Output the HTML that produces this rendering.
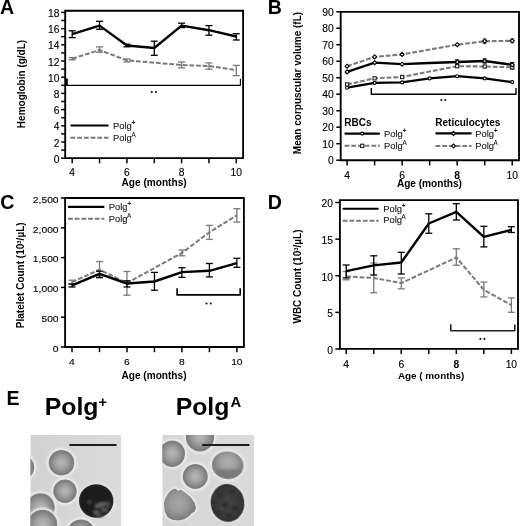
<!DOCTYPE html><html><head><meta charset="utf-8"><style>html,body{margin:0;padding:0;background:#fff;}svg{display:block;font-family:"Liberation Sans",sans-serif;will-change:transform;}</style></head><body>
<svg width="520" height="526" viewBox="0 0 520 526">
<defs>
<filter id="bl1" x="-20%" y="-20%" width="140%" height="140%"><feGaussianBlur stdDeviation="0.45"/></filter>
<filter id="bl2" x="-20%" y="-20%" width="140%" height="140%"><feGaussianBlur stdDeviation="1.0"/></filter>
<filter id="bl3" x="-50%" y="-50%" width="200%" height="200%"><feGaussianBlur stdDeviation="1.1"/></filter>
<radialGradient id="rbc" cx="50%" cy="50%" r="50%"><stop offset="0" stop-color="#b6b6b6"/><stop offset="0.35" stop-color="#a8a8a8"/><stop offset="0.7" stop-color="#8e8e8e"/><stop offset="0.9" stop-color="#7d7d7d"/><stop offset="1" stop-color="#858585"/></radialGradient>
<radialGradient id="rbc2" cx="50%" cy="40%" r="55%"><stop offset="0" stop-color="#b0b0b0"/><stop offset="0.45" stop-color="#a0a0a0"/><stop offset="0.75" stop-color="#868686"/><stop offset="1" stop-color="#7e7e7e"/></radialGradient>
<radialGradient id="rbc3" cx="45%" cy="45%" r="55%"><stop offset="0" stop-color="#a6a6a6"/><stop offset="0.5" stop-color="#9a9a9a"/><stop offset="0.85" stop-color="#838383"/><stop offset="1" stop-color="#7a7a7a"/></radialGradient>
<radialGradient id="dk1" cx="50%" cy="50%" r="50%"><stop offset="0" stop-color="#202020"/><stop offset="0.85" stop-color="#1c1c1c"/><stop offset="1" stop-color="#2a2a2a"/></radialGradient>
<radialGradient id="dk2" cx="50%" cy="50%" r="50%"><stop offset="0" stop-color="#3e3e3e"/><stop offset="0.8" stop-color="#383838"/><stop offset="1" stop-color="#303030"/></radialGradient>
<linearGradient id="bg1" x1="0" y1="0" x2="1" y2="0"><stop offset="0" stop-color="#d1d1d1"/><stop offset="1" stop-color="#dbdbdb"/></linearGradient>
<linearGradient id="bg2" x1="0" y1="0" x2="1" y2="0"><stop offset="0" stop-color="#d5d5d5"/><stop offset="1" stop-color="#dadada"/></linearGradient>
</defs>
<rect width="520" height="526" fill="#fff"/>
<line x1="61.2" y1="158.2" x2="65.2" y2="158.2" stroke="#000" stroke-width="1.5" />
<text x="59.4" y="162.8" font-size="10.3" font-weight="normal" text-anchor="end" fill="#000" textLength="5.73" lengthAdjust="spacingAndGlyphs" stroke="#000" stroke-width="0.12">0</text>
<line x1="61.2" y1="150.1" x2="65.2" y2="150.1" stroke="#000" stroke-width="1.5" />
<line x1="61.2" y1="142" x2="65.2" y2="142" stroke="#000" stroke-width="1.5" />
<text x="59.4" y="146.6" font-size="10.3" font-weight="normal" text-anchor="end" fill="#000" textLength="5.73" lengthAdjust="spacingAndGlyphs" stroke="#000" stroke-width="0.12">2</text>
<line x1="61.2" y1="133.9" x2="65.2" y2="133.9" stroke="#000" stroke-width="1.5" />
<line x1="61.2" y1="125.8" x2="65.2" y2="125.8" stroke="#000" stroke-width="1.5" />
<text x="59.4" y="130.4" font-size="10.3" font-weight="normal" text-anchor="end" fill="#000" textLength="5.73" lengthAdjust="spacingAndGlyphs" stroke="#000" stroke-width="0.12">4</text>
<line x1="61.2" y1="117.7" x2="65.2" y2="117.7" stroke="#000" stroke-width="1.5" />
<line x1="61.2" y1="109.6" x2="65.2" y2="109.6" stroke="#000" stroke-width="1.5" />
<text x="59.4" y="114.2" font-size="10.3" font-weight="normal" text-anchor="end" fill="#000" textLength="5.73" lengthAdjust="spacingAndGlyphs" stroke="#000" stroke-width="0.12">6</text>
<line x1="61.2" y1="101.5" x2="65.2" y2="101.5" stroke="#000" stroke-width="1.5" />
<line x1="61.2" y1="93.4" x2="65.2" y2="93.4" stroke="#000" stroke-width="1.5" />
<text x="59.4" y="98" font-size="10.3" font-weight="normal" text-anchor="end" fill="#000" textLength="5.73" lengthAdjust="spacingAndGlyphs" stroke="#000" stroke-width="0.12">8</text>
<line x1="61.2" y1="85.3" x2="65.2" y2="85.3" stroke="#000" stroke-width="1.5" />
<line x1="61.2" y1="77.2" x2="65.2" y2="77.2" stroke="#000" stroke-width="1.5" />
<text x="59.4" y="81.8" font-size="10.3" font-weight="normal" text-anchor="end" fill="#000" textLength="11.45" lengthAdjust="spacingAndGlyphs" stroke="#000" stroke-width="0.12">10</text>
<line x1="61.2" y1="69.1" x2="65.2" y2="69.1" stroke="#000" stroke-width="1.5" />
<line x1="61.2" y1="61" x2="65.2" y2="61" stroke="#000" stroke-width="1.5" />
<text x="59.4" y="65.6" font-size="10.3" font-weight="normal" text-anchor="end" fill="#000" textLength="11.45" lengthAdjust="spacingAndGlyphs" stroke="#000" stroke-width="0.12">12</text>
<line x1="61.2" y1="52.9" x2="65.2" y2="52.9" stroke="#000" stroke-width="1.5" />
<line x1="61.2" y1="44.8" x2="65.2" y2="44.8" stroke="#000" stroke-width="1.5" />
<text x="59.4" y="49.4" font-size="10.3" font-weight="normal" text-anchor="end" fill="#000" textLength="11.45" lengthAdjust="spacingAndGlyphs" stroke="#000" stroke-width="0.12">14</text>
<line x1="61.2" y1="36.7" x2="65.2" y2="36.7" stroke="#000" stroke-width="1.5" />
<line x1="61.2" y1="28.6" x2="65.2" y2="28.6" stroke="#000" stroke-width="1.5" />
<text x="59.4" y="33.2" font-size="10.3" font-weight="normal" text-anchor="end" fill="#000" textLength="11.45" lengthAdjust="spacingAndGlyphs" stroke="#000" stroke-width="0.12">16</text>
<line x1="61.2" y1="20.5" x2="65.2" y2="20.5" stroke="#000" stroke-width="1.5" />
<line x1="61.2" y1="12.4" x2="65.2" y2="12.4" stroke="#000" stroke-width="1.5" />
<text x="59.4" y="17" font-size="10.3" font-weight="normal" text-anchor="end" fill="#000" textLength="11.45" lengthAdjust="spacingAndGlyphs" stroke="#000" stroke-width="0.12">18</text>
<path d="M65.2 10.75H243.1V158.1H65.2Z" fill="none" stroke="#000" stroke-width="1.85" stroke-linejoin="miter"/>
<line x1="72.2" y1="158.1" x2="72.2" y2="163.3" stroke="#000" stroke-width="1.5" />
<line x1="99.55" y1="158.1" x2="99.55" y2="163.3" stroke="#000" stroke-width="1.5" />
<line x1="126.9" y1="158.1" x2="126.9" y2="163.3" stroke="#000" stroke-width="1.5" />
<line x1="154.25" y1="158.1" x2="154.25" y2="163.3" stroke="#000" stroke-width="1.5" />
<line x1="181.6" y1="158.1" x2="181.6" y2="163.3" stroke="#000" stroke-width="1.5" />
<line x1="208.95" y1="158.1" x2="208.95" y2="163.3" stroke="#000" stroke-width="1.5" />
<line x1="236.3" y1="158.1" x2="236.3" y2="163.3" stroke="#000" stroke-width="1.5" />
<text x="72.2" y="176.4" font-size="10.3" font-weight="normal" text-anchor="middle" fill="#000" textLength="5.73" lengthAdjust="spacingAndGlyphs" stroke="#000" stroke-width="0.12">4</text>
<text x="126.9" y="176.4" font-size="10.3" font-weight="normal" text-anchor="middle" fill="#000" textLength="5.73" lengthAdjust="spacingAndGlyphs" stroke="#000" stroke-width="0.12">6</text>
<text x="181.6" y="176.4" font-size="10.3" font-weight="normal" text-anchor="middle" fill="#000" textLength="5.73" lengthAdjust="spacingAndGlyphs" stroke="#000" stroke-width="0.12">8</text>
<text x="236.3" y="176.4" font-size="10.3" font-weight="normal" text-anchor="middle" fill="#000" textLength="11.45" lengthAdjust="spacingAndGlyphs" stroke="#000" stroke-width="0.12">10</text>
<text x="154.1" y="186.4" font-size="10.1" font-weight="bold" text-anchor="middle" fill="#000" >Age (months)</text>
<text transform="translate(24.7,84) rotate(-90)" font-size="10" font-weight="bold" text-anchor="middle">Hemoglobin (g/dL)</text>
<polyline points="72.2,58.7 99.55,50 126.9,60.4 181.6,65 208.95,66 236.3,70.2" fill="none" stroke="#7a7a7a" stroke-width="2" stroke-linejoin="round" stroke-dasharray="4.8,1.9"/>
<line x1="72.2" y1="57.6" x2="72.2" y2="59.8" stroke="#7a7a7a" stroke-width="1.3" />
<line x1="68.7" y1="57.6" x2="75.7" y2="57.6" stroke="#7a7a7a" stroke-width="1.3" />
<line x1="68.7" y1="59.8" x2="75.7" y2="59.8" stroke="#7a7a7a" stroke-width="1.3" />
<line x1="99.55" y1="46.9" x2="99.55" y2="52.2" stroke="#7a7a7a" stroke-width="1.3" />
<line x1="96.05" y1="46.9" x2="103.05" y2="46.9" stroke="#7a7a7a" stroke-width="1.3" />
<line x1="96.05" y1="52.2" x2="103.05" y2="52.2" stroke="#7a7a7a" stroke-width="1.3" />
<line x1="126.9" y1="59" x2="126.9" y2="61.9" stroke="#7a7a7a" stroke-width="1.3" />
<line x1="123.4" y1="59" x2="130.4" y2="59" stroke="#7a7a7a" stroke-width="1.3" />
<line x1="123.4" y1="61.9" x2="130.4" y2="61.9" stroke="#7a7a7a" stroke-width="1.3" />
<line x1="181.6" y1="62" x2="181.6" y2="67.8" stroke="#7a7a7a" stroke-width="1.3" />
<line x1="178.1" y1="62" x2="185.1" y2="62" stroke="#7a7a7a" stroke-width="1.3" />
<line x1="178.1" y1="67.8" x2="185.1" y2="67.8" stroke="#7a7a7a" stroke-width="1.3" />
<line x1="208.95" y1="62.9" x2="208.95" y2="69.2" stroke="#7a7a7a" stroke-width="1.3" />
<line x1="205.45" y1="62.9" x2="212.45" y2="62.9" stroke="#7a7a7a" stroke-width="1.3" />
<line x1="205.45" y1="69.2" x2="212.45" y2="69.2" stroke="#7a7a7a" stroke-width="1.3" />
<line x1="236.3" y1="65.4" x2="236.3" y2="75.6" stroke="#7a7a7a" stroke-width="1.3" />
<line x1="232.8" y1="65.4" x2="239.8" y2="65.4" stroke="#7a7a7a" stroke-width="1.3" />
<line x1="232.8" y1="75.6" x2="239.8" y2="75.6" stroke="#7a7a7a" stroke-width="1.3" />
<polyline points="72.2,34.2 99.55,25.6 126.9,45.5 154.25,48 181.6,25.6 208.95,30.2 236.3,36.5" fill="none" stroke="#000" stroke-width="2.4" stroke-linejoin="round" />
<line x1="72.2" y1="30.8" x2="72.2" y2="37.6" stroke="#000" stroke-width="1.3" />
<line x1="68.7" y1="30.8" x2="75.7" y2="30.8" stroke="#000" stroke-width="1.3" />
<line x1="68.7" y1="37.6" x2="75.7" y2="37.6" stroke="#000" stroke-width="1.3" />
<line x1="99.55" y1="21.3" x2="99.55" y2="29.3" stroke="#000" stroke-width="1.3" />
<line x1="96.05" y1="21.3" x2="103.05" y2="21.3" stroke="#000" stroke-width="1.3" />
<line x1="96.05" y1="29.3" x2="103.05" y2="29.3" stroke="#000" stroke-width="1.3" />
<line x1="126.9" y1="44.2" x2="126.9" y2="46.8" stroke="#000" stroke-width="1.3" />
<line x1="123.4" y1="44.2" x2="130.4" y2="44.2" stroke="#000" stroke-width="1.3" />
<line x1="123.4" y1="46.8" x2="130.4" y2="46.8" stroke="#000" stroke-width="1.3" />
<line x1="154.25" y1="41.2" x2="154.25" y2="55.3" stroke="#000" stroke-width="1.3" />
<line x1="150.75" y1="41.2" x2="157.75" y2="41.2" stroke="#000" stroke-width="1.3" />
<line x1="150.75" y1="55.3" x2="157.75" y2="55.3" stroke="#000" stroke-width="1.3" />
<line x1="181.6" y1="23.2" x2="181.6" y2="27.6" stroke="#000" stroke-width="1.3" />
<line x1="178.1" y1="23.2" x2="185.1" y2="23.2" stroke="#000" stroke-width="1.3" />
<line x1="178.1" y1="27.6" x2="185.1" y2="27.6" stroke="#000" stroke-width="1.3" />
<line x1="208.95" y1="25.6" x2="208.95" y2="35.2" stroke="#000" stroke-width="1.3" />
<line x1="205.45" y1="25.6" x2="212.45" y2="25.6" stroke="#000" stroke-width="1.3" />
<line x1="205.45" y1="35.2" x2="212.45" y2="35.2" stroke="#000" stroke-width="1.3" />
<line x1="236.3" y1="33.7" x2="236.3" y2="40" stroke="#000" stroke-width="1.3" />
<line x1="232.8" y1="33.7" x2="239.8" y2="33.7" stroke="#000" stroke-width="1.3" />
<line x1="232.8" y1="40" x2="239.8" y2="40" stroke="#000" stroke-width="1.3" />
<line x1="65.2" y1="85.3" x2="240.4" y2="85.3" stroke="#000" stroke-width="1.3" />
<line x1="66.9" y1="78.5" x2="66.9" y2="85.9" stroke="#000" stroke-width="1.8" />
<path d="M240.4 78.7V85.3H240.4V78.7" fill="none" stroke="#000" stroke-width="1.1" stroke-linejoin="round"/>
<circle cx="151.8" cy="92.1" r="1.05" fill="#111"/><circle cx="155.9" cy="92.1" r="1.05" fill="#111"/>
<line x1="71.3" y1="125.5" x2="107.7" y2="125.5" stroke="#000" stroke-width="2.1" stroke-linecap="round"/>
<text x="113" y="128.7" font-size="9.4" font-weight="normal" text-anchor="start" fill="#1a1a1a"  stroke="#1a1a1a" stroke-width="0.12">Polg</text>
<text x="131.6" y="124.7" font-size="6.8" font-weight="bold" text-anchor="start" fill="#1a1a1a" >+</text>
<line x1="70.5" y1="137.8" x2="108.5" y2="137.8" stroke="#7a7a7a" stroke-width="2.1" stroke-dasharray="4.8,1.9"/>
<text x="113" y="140.8" font-size="9.4" font-weight="normal" text-anchor="start" fill="#1a1a1a"  stroke="#1a1a1a" stroke-width="0.12">Polg</text>
<text x="131.4" y="137" font-size="6.3" font-weight="normal" text-anchor="start" fill="#1a1a1a"  stroke="#1a1a1a" stroke-width="0.12">A</text>
<text x="-0.1" y="13.7" font-size="19.6" font-weight="bold" text-anchor="start" fill="#000" >A</text>
<line x1="336.3" y1="160.2" x2="340.7" y2="160.2" stroke="#000" stroke-width="1.5" />
<text x="333.7" y="164.4" font-size="10" font-weight="normal" text-anchor="end" fill="#000" textLength="5.73" lengthAdjust="spacingAndGlyphs" stroke="#000" stroke-width="0.12">0</text>
<line x1="336.3" y1="143.71" x2="340.7" y2="143.71" stroke="#000" stroke-width="1.5" />
<text x="333.7" y="147.91" font-size="10" font-weight="normal" text-anchor="end" fill="#000" textLength="11.45" lengthAdjust="spacingAndGlyphs" stroke="#000" stroke-width="0.12">10</text>
<line x1="336.3" y1="127.22" x2="340.7" y2="127.22" stroke="#000" stroke-width="1.5" />
<text x="333.7" y="131.42" font-size="10" font-weight="normal" text-anchor="end" fill="#000" textLength="11.45" lengthAdjust="spacingAndGlyphs" stroke="#000" stroke-width="0.12">20</text>
<line x1="336.3" y1="110.73" x2="340.7" y2="110.73" stroke="#000" stroke-width="1.5" />
<text x="333.7" y="114.93" font-size="10" font-weight="normal" text-anchor="end" fill="#000" textLength="11.45" lengthAdjust="spacingAndGlyphs" stroke="#000" stroke-width="0.12">30</text>
<line x1="336.3" y1="94.24" x2="340.7" y2="94.24" stroke="#000" stroke-width="1.5" />
<text x="333.7" y="98.44" font-size="10" font-weight="normal" text-anchor="end" fill="#000" textLength="11.45" lengthAdjust="spacingAndGlyphs" stroke="#000" stroke-width="0.12">40</text>
<line x1="336.3" y1="77.75" x2="340.7" y2="77.75" stroke="#000" stroke-width="1.5" />
<text x="333.7" y="81.95" font-size="10" font-weight="normal" text-anchor="end" fill="#000" textLength="11.45" lengthAdjust="spacingAndGlyphs" stroke="#000" stroke-width="0.12">50</text>
<line x1="336.3" y1="61.26" x2="340.7" y2="61.26" stroke="#000" stroke-width="1.5" />
<text x="333.7" y="65.46" font-size="10" font-weight="normal" text-anchor="end" fill="#000" textLength="11.45" lengthAdjust="spacingAndGlyphs" stroke="#000" stroke-width="0.12">60</text>
<line x1="336.3" y1="44.77" x2="340.7" y2="44.77" stroke="#000" stroke-width="1.5" />
<text x="333.7" y="48.97" font-size="10" font-weight="normal" text-anchor="end" fill="#000" textLength="11.45" lengthAdjust="spacingAndGlyphs" stroke="#000" stroke-width="0.12">70</text>
<line x1="336.3" y1="28.28" x2="340.7" y2="28.28" stroke="#000" stroke-width="1.5" />
<text x="333.7" y="32.48" font-size="10" font-weight="normal" text-anchor="end" fill="#000" textLength="11.45" lengthAdjust="spacingAndGlyphs" stroke="#000" stroke-width="0.12">80</text>
<line x1="336.3" y1="11.79" x2="340.7" y2="11.79" stroke="#000" stroke-width="1.5" />
<text x="333.7" y="15.99" font-size="10" font-weight="normal" text-anchor="end" fill="#000" textLength="11.45" lengthAdjust="spacingAndGlyphs" stroke="#000" stroke-width="0.12">90</text>
<path d="M340.7 11.8H519V160.2H340.7Z" fill="none" stroke="#000" stroke-width="1.85" stroke-linejoin="miter"/>
<line x1="347.1" y1="160.2" x2="347.1" y2="165.4" stroke="#000" stroke-width="1.5" />
<line x1="374.62" y1="160.2" x2="374.62" y2="165.4" stroke="#000" stroke-width="1.5" />
<line x1="402.14" y1="160.2" x2="402.14" y2="165.4" stroke="#000" stroke-width="1.5" />
<line x1="429.66" y1="160.2" x2="429.66" y2="165.4" stroke="#000" stroke-width="1.5" />
<line x1="457.18" y1="160.2" x2="457.18" y2="165.4" stroke="#000" stroke-width="1.5" />
<line x1="484.7" y1="160.2" x2="484.7" y2="165.4" stroke="#000" stroke-width="1.5" />
<line x1="512.22" y1="160.2" x2="512.22" y2="165.4" stroke="#000" stroke-width="1.5" />
<text x="347.1" y="178.5" font-size="10" font-weight="normal" text-anchor="middle" fill="#000" textLength="5.73" lengthAdjust="spacingAndGlyphs" stroke="#000" stroke-width="0.12">4</text>
<text x="402.14" y="178.5" font-size="10" font-weight="normal" text-anchor="middle" fill="#000" textLength="5.73" lengthAdjust="spacingAndGlyphs" stroke="#000" stroke-width="0.12">6</text>
<text x="457.18" y="178.5" font-size="10" font-weight="bold" text-anchor="middle" fill="#000" textLength="5.73" lengthAdjust="spacingAndGlyphs">8</text>
<text x="512.22" y="178.5" font-size="10" font-weight="normal" text-anchor="middle" fill="#000" textLength="11.45" lengthAdjust="spacingAndGlyphs" stroke="#000" stroke-width="0.12">10</text>
<text x="429.4" y="186.6" font-size="10.1" font-weight="bold" text-anchor="middle" fill="#000" >Age (months)</text>
<text transform="translate(301,83) rotate(-90)" font-size="10" font-weight="bold" text-anchor="middle">Mean corpuscular volume (fL)</text>
<polyline points="347.1,87.7 374.62,82.9 402.14,82.4 429.66,78.4 457.18,76.2 484.7,78.4 512.22,82.1" fill="none" stroke="#000" stroke-width="2.3" stroke-linejoin="round" />
<polyline points="347.1,84.4 374.62,78.3 402.14,77 429.66,71.5 457.18,66.2 484.7,66.5 512.22,67.3" fill="none" stroke="#7a7a7a" stroke-width="2.1" stroke-linejoin="round" stroke-dasharray="4.8,1.9"/>
<polyline points="347.1,71.9 374.62,62.7 402.14,64.2 429.66,63 457.18,62 484.7,61 512.22,64.8" fill="none" stroke="#000" stroke-width="2.3" stroke-linejoin="round" />
<polyline points="347.1,66.2 374.62,56.9 402.14,54.4 457.18,44.7 484.7,41.2 512.22,40.8" fill="none" stroke="#7a7a7a" stroke-width="2.1" stroke-linejoin="round" stroke-dasharray="4.8,1.9"/>
<line x1="484.7" y1="38.8" x2="484.7" y2="43.6" stroke="#7a7a7a" stroke-width="1.1" />
<line x1="482.5" y1="38.8" x2="486.9" y2="38.8" stroke="#7a7a7a" stroke-width="1.1" />
<line x1="482.5" y1="43.6" x2="486.9" y2="43.6" stroke="#7a7a7a" stroke-width="1.1" />
<line x1="512.22" y1="38.8" x2="512.22" y2="42.8" stroke="#7a7a7a" stroke-width="1.1" />
<line x1="510.02" y1="38.8" x2="514.42" y2="38.8" stroke="#7a7a7a" stroke-width="1.1" />
<line x1="510.02" y1="42.8" x2="514.42" y2="42.8" stroke="#7a7a7a" stroke-width="1.1" />
<line x1="512.22" y1="62.5" x2="512.22" y2="67" stroke="#000" stroke-width="1.1" />
<line x1="510.02" y1="62.5" x2="514.42" y2="62.5" stroke="#000" stroke-width="1.1" />
<line x1="510.02" y1="67" x2="514.42" y2="67" stroke="#000" stroke-width="1.1" />
<line x1="457.18" y1="60" x2="457.18" y2="64" stroke="#000" stroke-width="1.1" />
<line x1="454.98" y1="60" x2="459.38" y2="60" stroke="#000" stroke-width="1.1" />
<line x1="454.98" y1="64" x2="459.38" y2="64" stroke="#000" stroke-width="1.1" />
<line x1="484.7" y1="59" x2="484.7" y2="63" stroke="#000" stroke-width="1.1" />
<line x1="482.5" y1="59" x2="486.9" y2="59" stroke="#000" stroke-width="1.1" />
<line x1="482.5" y1="63" x2="486.9" y2="63" stroke="#000" stroke-width="1.1" />
<line x1="512.22" y1="65" x2="512.22" y2="69.5" stroke="#7a7a7a" stroke-width="1.1" />
<line x1="510.02" y1="65" x2="514.42" y2="65" stroke="#7a7a7a" stroke-width="1.1" />
<line x1="510.02" y1="69.5" x2="514.42" y2="69.5" stroke="#7a7a7a" stroke-width="1.1" />
<circle cx="347.1" cy="87.7" r="1.5" fill="#fff" stroke="#000" stroke-width="1.1"/>
<circle cx="374.62" cy="82.9" r="1.5" fill="#fff" stroke="#000" stroke-width="1.1"/>
<circle cx="402.14" cy="82.4" r="1.5" fill="#fff" stroke="#000" stroke-width="1.1"/>
<circle cx="429.66" cy="78.4" r="1.5" fill="#fff" stroke="#000" stroke-width="1.1"/>
<circle cx="457.18" cy="76.2" r="1.5" fill="#fff" stroke="#000" stroke-width="1.1"/>
<circle cx="484.7" cy="78.4" r="1.5" fill="#fff" stroke="#000" stroke-width="1.1"/>
<circle cx="512.22" cy="82.1" r="1.5" fill="#fff" stroke="#000" stroke-width="1.1"/>
<rect x="345.5" y="82.8" width="3.2" height="3.2" fill="#fff" stroke="#222" stroke-width="1.1"/>
<rect x="373.02" y="76.7" width="3.2" height="3.2" fill="#fff" stroke="#222" stroke-width="1.1"/>
<rect x="400.54" y="75.4" width="3.2" height="3.2" fill="#fff" stroke="#222" stroke-width="1.1"/>
<rect x="455.58" y="64.6" width="3.2" height="3.2" fill="#fff" stroke="#222" stroke-width="1.1"/>
<rect x="483.1" y="64.9" width="3.2" height="3.2" fill="#fff" stroke="#222" stroke-width="1.1"/>
<rect x="510.62" y="65.7" width="3.2" height="3.2" fill="#fff" stroke="#222" stroke-width="1.1"/>
<path d="M347.1 69.9L349.1 71.9L347.1 73.9L345.1 71.9Z" fill="#fff" stroke="#000" stroke-width="1.1"/>
<path d="M374.62 60.7L376.62 62.7L374.62 64.7L372.62 62.7Z" fill="#fff" stroke="#000" stroke-width="1.1"/>
<path d="M402.14 62.2L404.14 64.2L402.14 66.2L400.14 64.2Z" fill="#fff" stroke="#000" stroke-width="1.1"/>
<path d="M457.18 60L459.18 62L457.18 64L455.18 62Z" fill="#fff" stroke="#000" stroke-width="1.1"/>
<path d="M484.7 59L486.7 61L484.7 63L482.7 61Z" fill="#fff" stroke="#000" stroke-width="1.1"/>
<path d="M512.22 62.8L514.22 64.8L512.22 66.8L510.22 64.8Z" fill="#fff" stroke="#000" stroke-width="1.1"/>
<path d="M347.1 64.2L349.1 66.2L347.1 68.2L345.1 66.2Z" fill="#fff" stroke="#000" stroke-width="1.1"/>
<path d="M374.62 54.9L376.62 56.9L374.62 58.9L372.62 56.9Z" fill="#fff" stroke="#000" stroke-width="1.1"/>
<path d="M402.14 52.4L404.14 54.4L402.14 56.4L400.14 54.4Z" fill="#fff" stroke="#000" stroke-width="1.1"/>
<path d="M457.18 42.7L459.18 44.7L457.18 46.7L455.18 44.7Z" fill="#fff" stroke="#000" stroke-width="1.1"/>
<path d="M484.7 39.2L486.7 41.2L484.7 43.2L482.7 41.2Z" fill="#fff" stroke="#000" stroke-width="1.1"/>
<path d="M512.22 38.8L514.22 40.8L512.22 42.8L510.22 40.8Z" fill="#fff" stroke="#000" stroke-width="1.1"/>
<path d="M371.3 88V94.3H516V88.1" fill="none" stroke="#000" stroke-width="1.4" stroke-linejoin="round"/>
<circle cx="441.4" cy="100" r="1.05" fill="#111"/><circle cx="445.3" cy="100" r="1.05" fill="#111"/>
<text x="344.3" y="126" font-size="10" font-weight="bold" text-anchor="start" fill="#000" >RBCs</text>
<text x="435.3" y="126" font-size="10" font-weight="bold" text-anchor="start" fill="#000" >Reticulocytes</text>
<line x1="345.4" y1="133.6" x2="379" y2="133.6" stroke="#000" stroke-width="2.1" stroke-linecap="round"/>
<circle cx="362.2" cy="133.6" r="1.5" fill="#fff" stroke="#000" stroke-width="1.1"/>
<text x="384" y="137" font-size="9.4" font-weight="normal" text-anchor="start" fill="#1a1a1a"  stroke="#1a1a1a" stroke-width="0.12">Polg</text>
<text x="402.6" y="133" font-size="6.8" font-weight="bold" text-anchor="start" fill="#1a1a1a" >+</text>
<line x1="344.6" y1="145.8" x2="379.8" y2="145.8" stroke="#7a7a7a" stroke-width="2.1" stroke-dasharray="4.8,1.9"/>
<rect x="360.6" y="144.2" width="3.2" height="3.2" fill="#fff" stroke="#222" stroke-width="1.1"/>
<text x="384" y="149.2" font-size="9.4" font-weight="normal" text-anchor="start" fill="#1a1a1a"  stroke="#1a1a1a" stroke-width="0.12">Polg</text>
<text x="402.4" y="145.4" font-size="6.3" font-weight="normal" text-anchor="start" fill="#1a1a1a"  stroke="#1a1a1a" stroke-width="0.12">A</text>
<line x1="436.3" y1="133.4" x2="470.7" y2="133.4" stroke="#000" stroke-width="2.1" stroke-linecap="round"/>
<path d="M453.5 131.4L455.5 133.4L453.5 135.4L451.5 133.4Z" fill="#fff" stroke="#000" stroke-width="1.1"/>
<text x="475.2" y="137" font-size="9.4" font-weight="normal" text-anchor="start" fill="#1a1a1a"  stroke="#1a1a1a" stroke-width="0.12">Polg</text>
<text x="493.8" y="133" font-size="6.8" font-weight="bold" text-anchor="start" fill="#1a1a1a" >+</text>
<line x1="435.5" y1="146" x2="471.5" y2="146" stroke="#7a7a7a" stroke-width="2.1" stroke-dasharray="4.8,1.9"/>
<path d="M453.5 144L455.5 146L453.5 148L451.5 146Z" fill="#fff" stroke="#000" stroke-width="1.1"/>
<text x="475.2" y="149.2" font-size="9.4" font-weight="normal" text-anchor="start" fill="#1a1a1a"  stroke="#1a1a1a" stroke-width="0.12">Polg</text>
<text x="493.6" y="145.4" font-size="6.3" font-weight="normal" text-anchor="start" fill="#1a1a1a"  stroke="#1a1a1a" stroke-width="0.12">A</text>
<text x="267.7" y="13.5" font-size="19.6" font-weight="bold" text-anchor="start" fill="#000" >B</text>
<line x1="60.9" y1="347" x2="65.1" y2="347" stroke="#000" stroke-width="1.5" />
<text x="58.6" y="351.75" font-size="9.8" font-weight="normal" text-anchor="end" fill="#000" textLength="5.73" lengthAdjust="spacingAndGlyphs" stroke="#000" stroke-width="0.12">0</text>
<line x1="60.9" y1="317.2" x2="65.1" y2="317.2" stroke="#000" stroke-width="1.5" />
<text x="58.6" y="321.95" font-size="9.8" font-weight="normal" text-anchor="end" fill="#000" textLength="17.18" lengthAdjust="spacingAndGlyphs" stroke="#000" stroke-width="0.12">500</text>
<line x1="60.9" y1="287.4" x2="65.1" y2="287.4" stroke="#000" stroke-width="1.5" />
<text x="58.6" y="292.15" font-size="9.8" font-weight="normal" text-anchor="end" fill="#000" textLength="25.77" lengthAdjust="spacingAndGlyphs" stroke="#000" stroke-width="0.12">1,000</text>
<line x1="60.9" y1="257.6" x2="65.1" y2="257.6" stroke="#000" stroke-width="1.5" />
<text x="58.6" y="262.35" font-size="9.8" font-weight="normal" text-anchor="end" fill="#000" textLength="25.77" lengthAdjust="spacingAndGlyphs" stroke="#000" stroke-width="0.12">1,500</text>
<line x1="60.9" y1="227.8" x2="65.1" y2="227.8" stroke="#000" stroke-width="1.5" />
<text x="58.6" y="232.55" font-size="9.8" font-weight="normal" text-anchor="end" fill="#000" textLength="25.77" lengthAdjust="spacingAndGlyphs" stroke="#000" stroke-width="0.12">2,000</text>
<line x1="60.9" y1="198" x2="65.1" y2="198" stroke="#000" stroke-width="1.5" />
<text x="58.6" y="202.75" font-size="9.8" font-weight="normal" text-anchor="end" fill="#000" textLength="25.77" lengthAdjust="spacingAndGlyphs" stroke="#000" stroke-width="0.12">2,500</text>
<path d="M65.1 198H243.9V347H65.1Z" fill="none" stroke="#000" stroke-width="1.85" stroke-linejoin="miter"/>
<line x1="72" y1="347" x2="72" y2="352.2" stroke="#000" stroke-width="1.5" />
<line x1="99.48" y1="347" x2="99.48" y2="352.2" stroke="#000" stroke-width="1.5" />
<line x1="126.96" y1="347" x2="126.96" y2="352.2" stroke="#000" stroke-width="1.5" />
<line x1="154.44" y1="347" x2="154.44" y2="352.2" stroke="#000" stroke-width="1.5" />
<line x1="181.92" y1="347" x2="181.92" y2="352.2" stroke="#000" stroke-width="1.5" />
<line x1="209.4" y1="347" x2="209.4" y2="352.2" stroke="#000" stroke-width="1.5" />
<line x1="236.88" y1="347" x2="236.88" y2="352.2" stroke="#000" stroke-width="1.5" />
<text x="72" y="364.8" font-size="9.8" font-weight="normal" text-anchor="middle" fill="#000" textLength="5.73" lengthAdjust="spacingAndGlyphs" stroke="#000" stroke-width="0.12">4</text>
<text x="126.96" y="364.8" font-size="9.8" font-weight="normal" text-anchor="middle" fill="#000" textLength="5.73" lengthAdjust="spacingAndGlyphs" stroke="#000" stroke-width="0.12">6</text>
<text x="181.92" y="364.8" font-size="9.8" font-weight="normal" text-anchor="middle" fill="#000" textLength="5.73" lengthAdjust="spacingAndGlyphs" stroke="#000" stroke-width="0.12">8</text>
<text x="236.88" y="364.8" font-size="9.8" font-weight="normal" text-anchor="middle" fill="#000" textLength="11.45" lengthAdjust="spacingAndGlyphs" stroke="#000" stroke-width="0.12">10</text>
<text x="154" y="379.4" font-size="10.1" font-weight="bold" text-anchor="middle" fill="#000" >Age (months)</text>
<text transform="translate(24.2,275.3) rotate(-90)" font-size="10" font-weight="bold" text-anchor="middle">Platelet Count (10<tspan font-size="6" dy="-3.5">3</tspan><tspan dy="3.5">/µL)</tspan></text>
<polyline points="72,282.1 99.48,269.6 126.96,283 181.92,252.9 209.4,232.3 236.88,215.4" fill="none" stroke="#7a7a7a" stroke-width="2" stroke-linejoin="round" stroke-dasharray="4.8,1.9"/>
<line x1="72" y1="280.2" x2="72" y2="284" stroke="#7a7a7a" stroke-width="1.3" />
<line x1="68.5" y1="280.2" x2="75.5" y2="280.2" stroke="#7a7a7a" stroke-width="1.3" />
<line x1="68.5" y1="284" x2="75.5" y2="284" stroke="#7a7a7a" stroke-width="1.3" />
<line x1="99.48" y1="261.5" x2="99.48" y2="276.9" stroke="#7a7a7a" stroke-width="1.3" />
<line x1="95.98" y1="261.5" x2="102.98" y2="261.5" stroke="#7a7a7a" stroke-width="1.3" />
<line x1="95.98" y1="276.9" x2="102.98" y2="276.9" stroke="#7a7a7a" stroke-width="1.3" />
<line x1="126.96" y1="271.5" x2="126.96" y2="295.2" stroke="#7a7a7a" stroke-width="1.3" />
<line x1="123.46" y1="271.5" x2="130.46" y2="271.5" stroke="#7a7a7a" stroke-width="1.3" />
<line x1="123.46" y1="295.2" x2="130.46" y2="295.2" stroke="#7a7a7a" stroke-width="1.3" />
<line x1="181.92" y1="250" x2="181.92" y2="255.8" stroke="#7a7a7a" stroke-width="1.3" />
<line x1="178.42" y1="250" x2="185.42" y2="250" stroke="#7a7a7a" stroke-width="1.3" />
<line x1="178.42" y1="255.8" x2="185.42" y2="255.8" stroke="#7a7a7a" stroke-width="1.3" />
<line x1="209.4" y1="225.4" x2="209.4" y2="239.4" stroke="#7a7a7a" stroke-width="1.3" />
<line x1="205.9" y1="225.4" x2="212.9" y2="225.4" stroke="#7a7a7a" stroke-width="1.3" />
<line x1="205.9" y1="239.4" x2="212.9" y2="239.4" stroke="#7a7a7a" stroke-width="1.3" />
<line x1="236.88" y1="208.7" x2="236.88" y2="222.1" stroke="#7a7a7a" stroke-width="1.3" />
<line x1="233.38" y1="208.7" x2="240.38" y2="208.7" stroke="#7a7a7a" stroke-width="1.3" />
<line x1="233.38" y1="222.1" x2="240.38" y2="222.1" stroke="#7a7a7a" stroke-width="1.3" />
<polyline points="72,285.4 99.48,273.8 126.96,283.5 154.44,281.5 181.92,272.1 209.4,270.8 236.88,263.1" fill="none" stroke="#000" stroke-width="2.4" stroke-linejoin="round" />
<line x1="72" y1="284" x2="72" y2="287" stroke="#000" stroke-width="1.3" />
<line x1="68.5" y1="284" x2="75.5" y2="284" stroke="#000" stroke-width="1.3" />
<line x1="68.5" y1="287" x2="75.5" y2="287" stroke="#000" stroke-width="1.3" />
<line x1="99.48" y1="271.2" x2="99.48" y2="277.7" stroke="#000" stroke-width="1.3" />
<line x1="95.98" y1="271.2" x2="102.98" y2="271.2" stroke="#000" stroke-width="1.3" />
<line x1="95.98" y1="277.7" x2="102.98" y2="277.7" stroke="#000" stroke-width="1.3" />
<line x1="126.96" y1="280.8" x2="126.96" y2="287" stroke="#000" stroke-width="1.3" />
<line x1="123.46" y1="280.8" x2="130.46" y2="280.8" stroke="#000" stroke-width="1.3" />
<line x1="123.46" y1="287" x2="130.46" y2="287" stroke="#000" stroke-width="1.3" />
<line x1="154.44" y1="272.4" x2="154.44" y2="290.2" stroke="#000" stroke-width="1.3" />
<line x1="150.94" y1="272.4" x2="157.94" y2="272.4" stroke="#000" stroke-width="1.3" />
<line x1="150.94" y1="290.2" x2="157.94" y2="290.2" stroke="#000" stroke-width="1.3" />
<line x1="181.92" y1="267.7" x2="181.92" y2="277.3" stroke="#000" stroke-width="1.3" />
<line x1="178.42" y1="267.7" x2="185.42" y2="267.7" stroke="#000" stroke-width="1.3" />
<line x1="178.42" y1="277.3" x2="185.42" y2="277.3" stroke="#000" stroke-width="1.3" />
<line x1="209.4" y1="263.5" x2="209.4" y2="276.9" stroke="#000" stroke-width="1.3" />
<line x1="205.9" y1="263.5" x2="212.9" y2="263.5" stroke="#000" stroke-width="1.3" />
<line x1="205.9" y1="276.9" x2="212.9" y2="276.9" stroke="#000" stroke-width="1.3" />
<line x1="236.88" y1="258.3" x2="236.88" y2="267.3" stroke="#000" stroke-width="1.3" />
<line x1="233.38" y1="258.3" x2="240.38" y2="258.3" stroke="#000" stroke-width="1.3" />
<line x1="233.38" y1="267.3" x2="240.38" y2="267.3" stroke="#000" stroke-width="1.3" />
<path d="M177.1 288.3V294.9H240.2V288.3" fill="none" stroke="#000" stroke-width="1.6" stroke-linejoin="round"/>
<circle cx="206.5" cy="303.5" r="1.05" fill="#111"/><circle cx="210.7" cy="303.5" r="1.05" fill="#111"/>
<line x1="68.8" y1="206.9" x2="103.5" y2="206.9" stroke="#000" stroke-width="2.1" stroke-linecap="round"/>
<text x="108.7" y="210.2" font-size="9.4" font-weight="normal" text-anchor="start" fill="#1a1a1a"  stroke="#1a1a1a" stroke-width="0.12">Polg</text>
<text x="127.3" y="206.2" font-size="6.8" font-weight="bold" text-anchor="start" fill="#1a1a1a" >+</text>
<line x1="68" y1="218.8" x2="104.3" y2="218.8" stroke="#7a7a7a" stroke-width="2.1" stroke-dasharray="4.8,1.9"/>
<text x="108.7" y="222" font-size="9.4" font-weight="normal" text-anchor="start" fill="#1a1a1a"  stroke="#1a1a1a" stroke-width="0.12">Polg</text>
<text x="127.1" y="218.2" font-size="6.3" font-weight="normal" text-anchor="start" fill="#1a1a1a"  stroke="#1a1a1a" stroke-width="0.12">A</text>
<text x="0.2" y="208.7" font-size="19.6" font-weight="bold" text-anchor="start" fill="#000" >C</text>
<line x1="335.3" y1="349" x2="339.9" y2="349" stroke="#000" stroke-width="1.5" />
<text x="332.9" y="353.8" font-size="10" font-weight="normal" text-anchor="end" fill="#000" textLength="5.73" lengthAdjust="spacingAndGlyphs" stroke="#000" stroke-width="0.12">0</text>
<line x1="335.3" y1="312.38" x2="339.9" y2="312.38" stroke="#000" stroke-width="1.5" />
<text x="332.9" y="317.18" font-size="10" font-weight="normal" text-anchor="end" fill="#000" textLength="5.73" lengthAdjust="spacingAndGlyphs" stroke="#000" stroke-width="0.12">5</text>
<line x1="335.3" y1="275.75" x2="339.9" y2="275.75" stroke="#000" stroke-width="1.5" />
<text x="332.9" y="280.55" font-size="10" font-weight="normal" text-anchor="end" fill="#000" textLength="11.45" lengthAdjust="spacingAndGlyphs" stroke="#000" stroke-width="0.12">10</text>
<line x1="335.3" y1="239.12" x2="339.9" y2="239.12" stroke="#000" stroke-width="1.5" />
<text x="332.9" y="243.93" font-size="10" font-weight="normal" text-anchor="end" fill="#000" textLength="11.45" lengthAdjust="spacingAndGlyphs" stroke="#000" stroke-width="0.12">15</text>
<line x1="335.3" y1="202.5" x2="339.9" y2="202.5" stroke="#000" stroke-width="1.5" />
<text x="332.9" y="207.3" font-size="10" font-weight="normal" text-anchor="end" fill="#000" textLength="11.45" lengthAdjust="spacingAndGlyphs" stroke="#000" stroke-width="0.12">20</text>
<path d="M339.9 200.1H518V348.8H339.9Z" fill="none" stroke="#000" stroke-width="1.85" stroke-linejoin="miter"/>
<line x1="346.2" y1="348.8" x2="346.2" y2="354" stroke="#000" stroke-width="1.5" />
<line x1="373.73" y1="348.8" x2="373.73" y2="354" stroke="#000" stroke-width="1.5" />
<line x1="401.26" y1="348.8" x2="401.26" y2="354" stroke="#000" stroke-width="1.5" />
<line x1="428.79" y1="348.8" x2="428.79" y2="354" stroke="#000" stroke-width="1.5" />
<line x1="456.32" y1="348.8" x2="456.32" y2="354" stroke="#000" stroke-width="1.5" />
<line x1="483.85" y1="348.8" x2="483.85" y2="354" stroke="#000" stroke-width="1.5" />
<line x1="511.38" y1="348.8" x2="511.38" y2="354" stroke="#000" stroke-width="1.5" />
<text x="346.2" y="367.5" font-size="10" font-weight="normal" text-anchor="middle" fill="#000" textLength="5.73" lengthAdjust="spacingAndGlyphs" stroke="#000" stroke-width="0.12">4</text>
<text x="401.26" y="367.5" font-size="10" font-weight="normal" text-anchor="middle" fill="#000" textLength="5.73" lengthAdjust="spacingAndGlyphs" stroke="#000" stroke-width="0.12">6</text>
<text x="456.32" y="367.5" font-size="10" font-weight="bold" text-anchor="middle" fill="#000" textLength="5.73" lengthAdjust="spacingAndGlyphs">8</text>
<text x="511.38" y="367.5" font-size="10" font-weight="normal" text-anchor="middle" fill="#000" textLength="11.45" lengthAdjust="spacingAndGlyphs" stroke="#000" stroke-width="0.12">10</text>
<text x="431.1" y="379.4" font-size="9.9" font-weight="bold" text-anchor="middle" fill="#000" >Age ( months)</text>
<text transform="translate(301,276.5) rotate(-90)" font-size="10" font-weight="bold" text-anchor="middle">WBC Count (10<tspan font-size="6" dy="-3.5">3</tspan><tspan dy="3.5">/µL)</tspan></text>
<polyline points="346.2,276.5 373.73,277.9 401.26,283.1 456.32,257.5 483.85,289.8 511.38,305.2" fill="none" stroke="#7a7a7a" stroke-width="2" stroke-linejoin="round" stroke-dasharray="4.8,1.9"/>
<line x1="346.2" y1="271.5" x2="346.2" y2="279.8" stroke="#7a7a7a" stroke-width="1.3" />
<line x1="342.7" y1="271.5" x2="349.7" y2="271.5" stroke="#7a7a7a" stroke-width="1.3" />
<line x1="342.7" y1="279.8" x2="349.7" y2="279.8" stroke="#7a7a7a" stroke-width="1.3" />
<line x1="373.73" y1="263" x2="373.73" y2="292.7" stroke="#7a7a7a" stroke-width="1.3" />
<line x1="370.23" y1="263" x2="377.23" y2="263" stroke="#7a7a7a" stroke-width="1.3" />
<line x1="370.23" y1="292.7" x2="377.23" y2="292.7" stroke="#7a7a7a" stroke-width="1.3" />
<line x1="401.26" y1="277.9" x2="401.26" y2="288.8" stroke="#7a7a7a" stroke-width="1.3" />
<line x1="397.76" y1="277.9" x2="404.76" y2="277.9" stroke="#7a7a7a" stroke-width="1.3" />
<line x1="397.76" y1="288.8" x2="404.76" y2="288.8" stroke="#7a7a7a" stroke-width="1.3" />
<line x1="456.32" y1="248.8" x2="456.32" y2="265.2" stroke="#7a7a7a" stroke-width="1.3" />
<line x1="452.82" y1="248.8" x2="459.82" y2="248.8" stroke="#7a7a7a" stroke-width="1.3" />
<line x1="452.82" y1="265.2" x2="459.82" y2="265.2" stroke="#7a7a7a" stroke-width="1.3" />
<line x1="483.85" y1="282.1" x2="483.85" y2="296.9" stroke="#7a7a7a" stroke-width="1.3" />
<line x1="480.35" y1="282.1" x2="487.35" y2="282.1" stroke="#7a7a7a" stroke-width="1.3" />
<line x1="480.35" y1="296.9" x2="487.35" y2="296.9" stroke="#7a7a7a" stroke-width="1.3" />
<line x1="511.38" y1="297.9" x2="511.38" y2="312.3" stroke="#7a7a7a" stroke-width="1.3" />
<line x1="507.88" y1="297.9" x2="514.88" y2="297.9" stroke="#7a7a7a" stroke-width="1.3" />
<line x1="507.88" y1="312.3" x2="514.88" y2="312.3" stroke="#7a7a7a" stroke-width="1.3" />
<polyline points="346.2,271.2 373.73,265.4 401.26,262.5 428.79,223.5 456.32,211.9 483.85,236.9 511.38,230" fill="none" stroke="#000" stroke-width="2.4" stroke-linejoin="round" />
<line x1="346.2" y1="265" x2="346.2" y2="277.9" stroke="#000" stroke-width="1.3" />
<line x1="342.7" y1="265" x2="349.7" y2="265" stroke="#000" stroke-width="1.3" />
<line x1="342.7" y1="277.9" x2="349.7" y2="277.9" stroke="#000" stroke-width="1.3" />
<line x1="373.73" y1="255.8" x2="373.73" y2="275" stroke="#000" stroke-width="1.3" />
<line x1="370.23" y1="255.8" x2="377.23" y2="255.8" stroke="#000" stroke-width="1.3" />
<line x1="370.23" y1="275" x2="377.23" y2="275" stroke="#000" stroke-width="1.3" />
<line x1="401.26" y1="252.3" x2="401.26" y2="274" stroke="#000" stroke-width="1.3" />
<line x1="397.76" y1="252.3" x2="404.76" y2="252.3" stroke="#000" stroke-width="1.3" />
<line x1="397.76" y1="274" x2="404.76" y2="274" stroke="#000" stroke-width="1.3" />
<line x1="428.79" y1="213.8" x2="428.79" y2="233.3" stroke="#000" stroke-width="1.3" />
<line x1="425.29" y1="213.8" x2="432.29" y2="213.8" stroke="#000" stroke-width="1.3" />
<line x1="425.29" y1="233.3" x2="432.29" y2="233.3" stroke="#000" stroke-width="1.3" />
<line x1="456.32" y1="203.7" x2="456.32" y2="220" stroke="#000" stroke-width="1.3" />
<line x1="452.82" y1="203.7" x2="459.82" y2="203.7" stroke="#000" stroke-width="1.3" />
<line x1="452.82" y1="220" x2="459.82" y2="220" stroke="#000" stroke-width="1.3" />
<line x1="483.85" y1="226.3" x2="483.85" y2="246.9" stroke="#000" stroke-width="1.3" />
<line x1="480.35" y1="226.3" x2="487.35" y2="226.3" stroke="#000" stroke-width="1.3" />
<line x1="480.35" y1="246.9" x2="487.35" y2="246.9" stroke="#000" stroke-width="1.3" />
<line x1="511.38" y1="226.7" x2="511.38" y2="232.5" stroke="#000" stroke-width="1.3" />
<line x1="507.88" y1="226.7" x2="514.88" y2="226.7" stroke="#000" stroke-width="1.3" />
<line x1="507.88" y1="232.5" x2="514.88" y2="232.5" stroke="#000" stroke-width="1.3" />
<path d="M450.8 324.3V330.8H514.8V324.6" fill="none" stroke="#222" stroke-width="1.6" stroke-linejoin="round"/>
<circle cx="480.4" cy="338.9" r="1.05" fill="#111"/><circle cx="484.4" cy="338.9" r="1.05" fill="#111"/>
<line x1="343.5" y1="208.7" x2="377.8" y2="208.7" stroke="#000" stroke-width="2.1" stroke-linecap="round"/>
<text x="383.2" y="211.5" font-size="9.4" font-weight="normal" text-anchor="start" fill="#1a1a1a"  stroke="#1a1a1a" stroke-width="0.12">Polg</text>
<text x="401.8" y="207.5" font-size="6.8" font-weight="bold" text-anchor="start" fill="#1a1a1a" >+</text>
<line x1="342.7" y1="220.7" x2="378.6" y2="220.7" stroke="#7a7a7a" stroke-width="2.1" stroke-dasharray="4.8,1.9"/>
<text x="383.2" y="223.2" font-size="9.4" font-weight="normal" text-anchor="start" fill="#1a1a1a"  stroke="#1a1a1a" stroke-width="0.12">Polg</text>
<text x="401.6" y="219.4" font-size="6.3" font-weight="normal" text-anchor="start" fill="#1a1a1a"  stroke="#1a1a1a" stroke-width="0.12">A</text>
<text x="267.7" y="208.7" font-size="19.6" font-weight="bold" text-anchor="start" fill="#000" >D</text>
<text x="6.5" y="405" font-size="19.6" font-weight="bold" text-anchor="start" fill="#000" >E</text>
<text x="44.8" y="415.3" font-size="24.8" font-weight="bold" text-anchor="start" fill="#000" >Polg</text>
<text x="98.6" y="406.6" font-size="14.5" font-weight="bold" text-anchor="start" fill="#000" >+</text>
<text x="175.7" y="415.4" font-size="24.8" font-weight="bold" text-anchor="start" fill="#000" >Polg</text>
<text x="230.6" y="406.9" font-size="14.8" font-weight="bold" text-anchor="start" fill="#000" >A</text>
<clipPath id="c1"><rect x="30.4" y="435" width="90.9" height="91"/></clipPath>
<clipPath id="c2"><rect x="162.3" y="434.9" width="91.8" height="92"/></clipPath>
<g clip-path="url(#c1)">
<rect x="30.4" y="435" width="90.9" height="91" fill="url(#bg1)"/>
<ellipse cx="21.6" cy="467.4" rx="14.8" ry="14.8" fill="#ebebeb" transform="rotate(0 21.6 467.4)" filter="url(#bl2)"/>
<ellipse cx="21.6" cy="467.4" rx="12.6" ry="12.6" fill="url(#rbc)" transform="rotate(0 21.6 467.4)" filter="url(#bl1)"/>
<ellipse cx="61.5" cy="462.7" rx="15" ry="15" fill="#ebebeb" transform="rotate(0 61.5 462.7)" filter="url(#bl2)"/>
<ellipse cx="61.5" cy="462.7" rx="12.8" ry="12.8" fill="url(#rbc)" transform="rotate(0 61.5 462.7)" filter="url(#bl1)"/>
<ellipse cx="65" cy="491.2" rx="13.9" ry="13.9" fill="#ebebeb" transform="rotate(0 65 491.2)" filter="url(#bl2)"/>
<ellipse cx="65" cy="491.2" rx="11.7" ry="11.7" fill="url(#rbc)" transform="rotate(0 65 491.2)" filter="url(#bl1)"/>
<ellipse cx="40.5" cy="507.5" rx="16.4" ry="16.4" fill="#ebebeb" transform="rotate(0 40.5 507.5)" filter="url(#bl2)"/>
<ellipse cx="40.5" cy="507.5" rx="14.2" ry="14.2" fill="url(#rbc)" transform="rotate(0 40.5 507.5)" filter="url(#bl1)"/>
<ellipse cx="42.5" cy="524.5" rx="17" ry="17" fill="#ebebeb" transform="rotate(0 42.5 524.5)" filter="url(#bl2)"/>
<ellipse cx="42.5" cy="524.5" rx="14.8" ry="14.8" fill="url(#rbc)" transform="rotate(0 42.5 524.5)" filter="url(#bl1)"/>
<ellipse cx="81" cy="533.5" rx="16.2" ry="16.2" fill="#ebebeb" transform="rotate(0 81 533.5)" filter="url(#bl2)"/>
<ellipse cx="81" cy="533.5" rx="14" ry="14" fill="url(#rbc)" transform="rotate(0 81 533.5)" filter="url(#bl1)"/>
<ellipse cx="96.2" cy="501" rx="18.8" ry="18.3" fill="#e6e6e6" transform="rotate(0 96.2 501)" filter="url(#bl2)"/>
<ellipse cx="96.2" cy="501" rx="17.2" ry="16.8" fill="url(#dk1)" transform="rotate(0 96.2 501)" filter="url(#bl1)"/>
<g filter="url(#bl3)" opacity="0.9">
<ellipse cx="89.5" cy="502" rx="2.4" ry="2" fill="#4a4a4a" transform="rotate(0 89.5 502)" />
<ellipse cx="100.5" cy="505" rx="6.5" ry="3" fill="#626262" transform="rotate(-20 100.5 505)" />
<ellipse cx="104.5" cy="510" rx="3.6" ry="2.6" fill="#5a5a5a" transform="rotate(0 104.5 510)" />
<ellipse cx="96.5" cy="512.5" rx="3.6" ry="2.6" fill="#5c5c5c" transform="rotate(0 96.5 512.5)" />
<ellipse cx="108" cy="504.5" rx="2.2" ry="3.4" fill="#505050" transform="rotate(0 108 504.5)" />
<ellipse cx="100" cy="516" rx="4" ry="1.4" fill="#4a4a4a" transform="rotate(0 100 516)" />
</g>
<line x1="69.6" y1="445" x2="116.3" y2="445" stroke="#ececec" stroke-width="4.2" stroke-linecap="round" filter="url(#bl1)"/>
<line x1="70.2" y1="445" x2="115.8" y2="445" stroke="#1c1c1c" stroke-width="2" stroke-linecap="round"/>
</g>
<g clip-path="url(#c2)">
<rect x="162.3" y="434.9" width="91.8" height="92" fill="url(#bg2)"/>
<ellipse cx="200" cy="437" rx="16.4" ry="16.7" fill="#ebebeb" transform="rotate(0 200 437)" filter="url(#bl2)"/>
<ellipse cx="200" cy="437" rx="14.2" ry="14.5" fill="url(#rbc)" transform="rotate(0 200 437)" filter="url(#bl1)"/>
<ellipse cx="172.2" cy="453.7" rx="15" ry="15.4" fill="#ebebeb" transform="rotate(0 172.2 453.7)" filter="url(#bl2)"/>
<ellipse cx="172.2" cy="453.7" rx="12.8" ry="13.2" fill="url(#rbc)" transform="rotate(0 172.2 453.7)" filter="url(#bl1)"/>
<ellipse cx="195.3" cy="476.5" rx="14.7" ry="14.7" fill="#ebebeb" transform="rotate(0 195.3 476.5)" filter="url(#bl2)"/>
<ellipse cx="195.3" cy="476.5" rx="12.5" ry="12.5" fill="url(#rbc)" transform="rotate(0 195.3 476.5)" filter="url(#bl1)"/>
<ellipse cx="227.7" cy="465.3" rx="18" ry="16" fill="#ebebeb" transform="rotate(6 227.7 465.3)" filter="url(#bl2)"/>
<ellipse cx="227.7" cy="465.3" rx="15.8" ry="13.8" fill="url(#rbc2)" transform="rotate(6 227.7 465.3)" filter="url(#bl1)"/>
<clipPath id="ov"><ellipse cx="227.7" cy="465.3" rx="15" ry="13" transform="rotate(6 227.7 465.3)"/></clipPath>
<g clip-path="url(#ov)"><ellipse cx="228.5" cy="473.5" rx="17" ry="4.2" fill="#767676" opacity="0.75" filter="url(#bl3)"/></g>
<path d="M171.2 490.2 L175.1 488.5 L178.2 490.7 L180.8 489.8 L185.1 492.4 L190.3 496.7 L194.6 502.8 L195.9 508 L194.6 511.4 L192 513.1 L188.5 516.6 L184.2 519.2 L179 520.5 L173 520.1 L167.8 517.5 L164.8 511.4 L163.9 503.6 L165.2 498.4 L167.8 494.1Z" fill="#ebebeb" stroke="#ebebeb" stroke-width="3" filter="url(#bl2)"/>
<path d="M171.2 490.2 L175.1 488.5 L178.2 490.7 L180.8 489.8 L185.1 492.4 L190.3 496.7 L194.6 502.8 L195.9 508 L194.6 511.4 L192 513.1 L188.5 516.6 L184.2 519.2 L179 520.5 L173 520.1 L167.8 517.5 L164.8 511.4 L163.9 503.6 L165.2 498.4 L167.8 494.1Z" fill="url(#rbc3)" filter="url(#bl1)"/>
<ellipse cx="227.5" cy="503" rx="18.4" ry="20.4" fill="#e6e6e6" transform="rotate(-8 227.5 503)" filter="url(#bl2)"/>
<ellipse cx="227.5" cy="503" rx="16.8" ry="18.9" fill="url(#dk2)" transform="rotate(-8 227.5 503)" filter="url(#bl1)"/>
<g filter="url(#bl3)" opacity="0.85">
<ellipse cx="220" cy="495" rx="2.2" ry="2.2" fill="#2a2a2a" transform="rotate(0 220 495)" />
<ellipse cx="232" cy="492" rx="2" ry="2" fill="#2c2c2c" transform="rotate(0 232 492)" />
<ellipse cx="225" cy="505" rx="2.4" ry="2.4" fill="#2a2a2a" transform="rotate(0 225 505)" />
<ellipse cx="235" cy="508" rx="2.2" ry="2.2" fill="#2d2d2d" transform="rotate(0 235 508)" />
<ellipse cx="219" cy="512" rx="2" ry="2" fill="#2b2b2b" transform="rotate(0 219 512)" />
<ellipse cx="229" cy="516" rx="2.2" ry="2.2" fill="#2a2a2a" transform="rotate(0 229 516)" />
<ellipse cx="238" cy="498" rx="1.8" ry="1.8" fill="#2e2e2e" transform="rotate(0 238 498)" />
<ellipse cx="214" cy="503" rx="1.8" ry="1.8" fill="#2c2c2c" transform="rotate(0 214 503)" />
<ellipse cx="227" cy="498" rx="1.6" ry="1.6" fill="#505050" transform="rotate(0 227 498)" />
<ellipse cx="231" cy="502" rx="1.6" ry="1.6" fill="#4d4d4d" transform="rotate(0 231 502)" />
<ellipse cx="222" cy="509" rx="1.6" ry="1.6" fill="#4f4f4f" transform="rotate(0 222 509)" />
</g>
<line x1="202.2" y1="444.9" x2="249.3" y2="444.9" stroke="#ececec" stroke-width="4.2" stroke-linecap="round" filter="url(#bl1)"/>
<line x1="202.8" y1="444.9" x2="248.7" y2="444.9" stroke="#1c1c1c" stroke-width="2" stroke-linecap="round"/>
</g>
</svg></body></html>
